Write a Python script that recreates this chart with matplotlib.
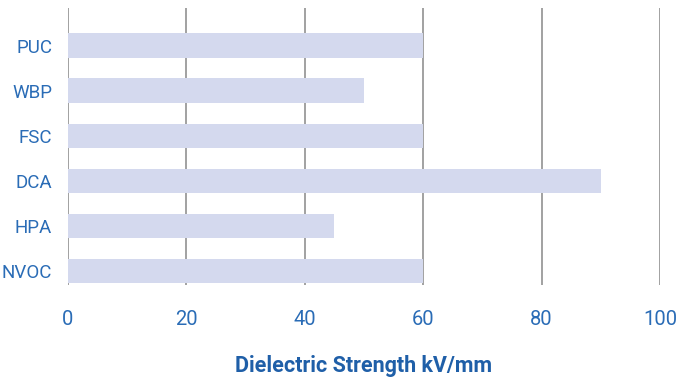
import matplotlib
matplotlib.use("Agg")
import matplotlib.pyplot as plt
from matplotlib import font_manager

categories = ["PUC", "WBP", "FSC", "DCA", "HPA", "NVOC"]
values = [60, 50, 60, 90, 45, 60]
xticks = [0, 20, 40, 60, 80, 100]
xlabel = "Dielectric Strength kV/mm"

names = {f.name for f in font_manager.fontManager.ttflist}
family = "Liberation Sans Narrow" if "Liberation Sans Narrow" in names else "Roboto"
plt.rcParams["font.family"] = [family, "DejaVu Sans"]

fig = plt.figure(figsize=(6.76, 3.78), dpi=100)
ax = fig.add_axes([68 / 676, 1 - 285 / 378, (660 - 68) / 676, (285 - 8) / 378])

ypos = list(range(len(categories)))
ax.barh(ypos, values, height=0.55, color="#d4d9ee", zorder=2)

ax.set_xlim(0, 100)
ax.set_ylim(5.31, -0.84)
ax.set_xticks(xticks)
ax.set_yticks(ypos)
ax.set_yticklabels(categories)
ax.tick_params(axis="both", length=0, colors="#2a6cb6")
ax.tick_params(axis="x", pad=18, labelsize=14.5)
ax.tick_params(axis="y", pad=11.5, labelsize=13.5)
ax.grid(axis="x", color="#9a9a9a", linewidth=1.3, zorder=1)
ax.grid(axis="y", visible=False)
for s in ax.spines.values():
    s.set_visible(False)

ax.set_xlabel(xlabel, fontsize=15.5, fontweight="bold", color="#1f5fa8", labelpad=19)

fig.savefig("out.png", dpi=100)
